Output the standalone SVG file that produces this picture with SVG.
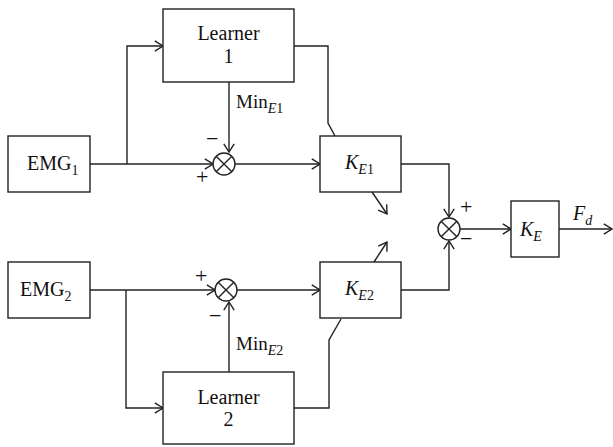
<svg xmlns="http://www.w3.org/2000/svg" width="613" height="447" viewBox="0 0 613 447">
<style>
.b{fill:#fff;stroke:#222;stroke-width:1.4}
.l{fill:none;stroke:#222;stroke-width:1.4}
.a{fill:none;stroke:#222;stroke-width:1.4;marker-end:url(#ah)}
text{font-family:"Liberation Serif","Times New Roman",serif;fill:#111}
.t{font-size:20px;text-anchor:middle}
.s{font-size:14px}
.i{font-style:italic}
.sg{font-size:22px}
</style>
<defs>
<marker id="ah" viewBox="0 0 10 12" refX="9" refY="6" markerWidth="10" markerHeight="12" markerUnits="userSpaceOnUse" orient="auto">
<path d="M0.8,0.8 L9,6 L0.8,11.2" fill="none" stroke="#222" stroke-width="1.4"/>
</marker>
<g id="sum"><circle r="11" class="b"/><path d="M-7.8,-7.8 L7.8,7.8 M-7.8,7.8 L7.8,-7.8" class="l"/></g>
</defs>

<g id="connectors">
<path class="l" d="M90,164 L127,164"/>
<path class="a" d="M127,164 L127,46 L163,46"/>
<path class="a" d="M127,164 L213,164"/>
<path class="a" d="M229,82 L229,152"/>
<path class="a" d="M235,164 L320,164"/>
<path class="l" d="M294,46 L328,46 L328,123 L335,136"/>
<path class="a" d="M401,164 L449,164 L449,217"/>
<path class="a" d="M372,192 L387,214"/>
<path class="a" d="M460,229 L511,229"/>
<path class="a" d="M559,229 L612,229"/>
<path class="l" d="M90,290 L126,290"/>
<path class="a" d="M126,290 L215,290"/>
<path class="a" d="M126,290 L126,408 L163,408"/>
<path class="a" d="M229,372 L229,302"/>
<path class="a" d="M237,290 L320,290"/>
<path class="l" d="M294,408 L329,408 L329,340 L341,319"/>
<path class="a" d="M401,290 L449,290 L449,241"/>
<path class="a" d="M374,262 L387,242"/>
</g>

<g id="emg1"><rect class="b" x="8" y="136" width="82" height="56"/><text x="27" y="170" style="font-size:20px">EMG<tspan class="s" dy="5">1</tspan></text></g>
<g id="learner1"><rect class="b" x="163" y="9" width="131" height="73"/><text class="t" x="228.5" y="40">Learner</text><text class="t" x="228.5" y="63">1</text></g>
<g id="sum1"><use href="#sum" x="224" y="164"/><text class="sg" x="206" y="146">−</text><text class="sg" x="196" y="184">+</text></g>
<g id="minE1"><text x="236" y="108" style="font-size:19px">Min<tspan class="s i" dy="5">E</tspan><tspan class="s">1</tspan></text></g>
<g id="ke1"><rect class="b" x="320" y="136" width="81" height="56"/><text x="345" y="169" style="font-size:20px"><tspan class="i">K</tspan><tspan class="s i" dy="5">E</tspan><tspan class="s">1</tspan></text></g>
<g id="sum3"><use href="#sum" x="449" y="229"/><text class="sg" x="460" y="214">+</text><text class="sg" x="460" y="246">−</text></g>
<g id="ke"><rect class="b" x="511" y="201" width="48" height="56"/><text x="520" y="236" style="font-size:20px"><tspan class="i">K</tspan><tspan class="s i" dy="5">E</tspan></text></g>
<g id="fd"><text x="573" y="220" style="font-size:20px"><tspan class="i">F</tspan><tspan class="s i" dy="5">d</tspan></text></g>
<g id="emg2"><rect class="b" x="8" y="262" width="82" height="56"/><text x="20" y="296" style="font-size:20px">EMG<tspan class="s" dy="5">2</tspan></text></g>
<g id="sum2"><use href="#sum" x="226" y="290"/><text class="sg" x="195" y="283">+</text><text class="sg" x="209" y="323">−</text></g>
<g id="minE2"><text x="236" y="350" style="font-size:19px">Min<tspan class="s i" dy="5">E</tspan><tspan class="s">2</tspan></text></g>
<g id="ke2"><rect class="b" x="320" y="262" width="81" height="56"/><text x="345" y="295" style="font-size:20px"><tspan class="i">K</tspan><tspan class="s i" dy="5">E</tspan><tspan class="s">2</tspan></text></g>
<g id="learner2"><rect class="b" x="163" y="372" width="131" height="72"/><text class="t" x="228.5" y="404">Learner</text><text class="t" x="228.5" y="426">2</text></g>
</svg>
